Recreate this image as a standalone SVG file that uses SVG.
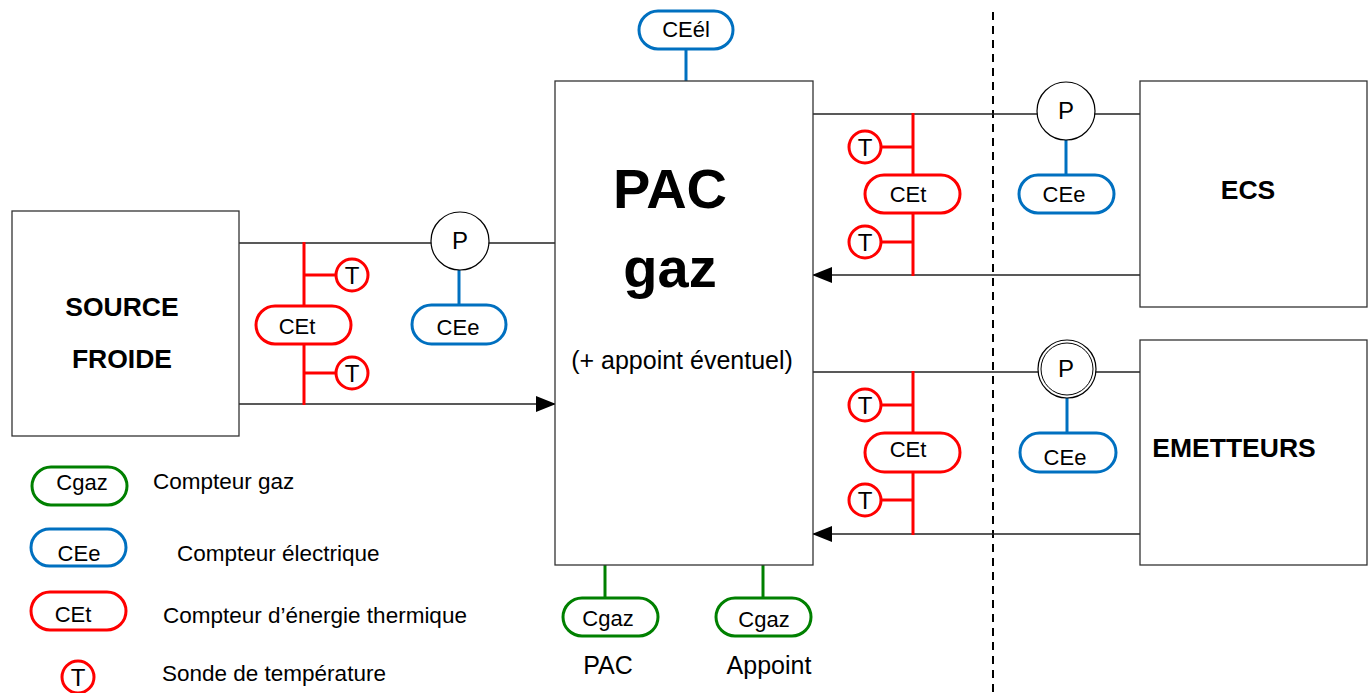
<svg xmlns="http://www.w3.org/2000/svg" width="1372" height="693" viewBox="0 0 1372 693">
<style>
text{font-family:"Liberation Sans",Arial,sans-serif;fill:#000}
.box{fill:#fff;stroke:#333;stroke-width:1.3}
.pipe{stroke:#222;stroke-width:1.3;fill:none}
.red{stroke:#ff0000;stroke-width:3;fill:none}
.blue{stroke:#0070c0;stroke-width:3;fill:none}
.green{stroke:#008000;stroke-width:3;fill:none}
.pill{fill:#fff}
.t{font-size:22px;text-anchor:middle}
.pt{font-size:24px;text-anchor:middle}
.lbl{font-size:22.5px}
.sub{font-size:25px;text-anchor:middle}
.big{font-size:26.5px;font-weight:bold;text-anchor:middle}
.huge{font-size:56px;font-weight:bold;text-anchor:middle}
.pc{fill:#fff;stroke:#000;stroke-width:1.2}
</style>
<defs>
<marker id="arr" markerWidth="20" markerHeight="16" refX="19" refY="8" orient="auto" markerUnits="userSpaceOnUse"><path d="M0,0 L20,8 L0,16 Z" fill="#000"/></marker>
</defs>
<rect width="1372" height="693" fill="#fff"/>
<line x1="993" y1="12" x2="993" y2="693" stroke="#000" stroke-width="2" stroke-dasharray="8,6"/>

<g id="connectors">
<line class="pipe" x1="239" y1="243" x2="555" y2="243"/>
<line class="pipe" x1="239" y1="404" x2="555" y2="404" marker-end="url(#arr)"/>
<line class="pipe" x1="813" y1="114" x2="1140" y2="114"/>
<line class="pipe" x1="1140" y1="275" x2="813" y2="275" marker-end="url(#arr)"/>
<line class="pipe" x1="813" y1="372" x2="1140" y2="372"/>
<line class="pipe" x1="1140" y1="534" x2="813" y2="534" marker-end="url(#arr)"/>
<line class="blue" x1="686" y1="49" x2="686" y2="81"/>
<line class="green" x1="605" y1="565" x2="605" y2="598"/>
<line class="green" x1="763" y1="565" x2="763" y2="598"/>
<line class="blue" x1="459" y1="270" x2="459" y2="305"/>
<line class="blue" x1="1066" y1="139" x2="1066" y2="175"/>
<line class="blue" x1="1067" y1="397" x2="1067" y2="433"/>
<line class="red" x1="304" y1="242" x2="304" y2="405"/>
<line class="red" x1="304" y1="275" x2="336" y2="275"/>
<line class="red" x1="304" y1="373" x2="336" y2="373"/>
<line class="red" x1="913" y1="113" x2="913" y2="276"/>
<line class="red" x1="881" y1="147" x2="913" y2="147"/>
<line class="red" x1="881" y1="242" x2="913" y2="242"/>
<line class="red" x1="913" y1="371" x2="913" y2="535"/>
<line class="red" x1="881" y1="405" x2="913" y2="405"/>
<line class="red" x1="881" y1="500" x2="913" y2="500"/>
</g>

<g id="source">
<rect class="box" x="12" y="211" width="227" height="225"/>
<text class="big" x="122" y="316">SOURCE</text>
<text class="big" x="122" y="368">FROIDE</text>
</g>
<g id="pac">
<rect class="box" x="555" y="81" width="258" height="484"/>
<text class="huge" x="670" y="208">PAC</text>
<text class="huge" x="670" y="287">gaz</text>
<text class="sub" x="682" y="369">(+ appoint éventuel)</text>
</g>
<g id="ecs">
<rect class="box" x="1140" y="81" width="227" height="226"/>
<text class="big" x="1248" y="199">ECS</text>
</g>
<g id="emetteurs">
<rect class="box" x="1140" y="340" width="227" height="225"/>
<text class="big" x="1234" y="457">EMETTEURS</text>
</g>

<g id="ceel">
<rect class="pill blue" x="639" y="11" width="94" height="38" rx="19"/>
<text class="t" x="686" y="37">CEél</text>
</g>
<g id="cgaz-pac">
<rect class="pill green" x="563" y="598" width="95" height="38" rx="19"/>
<text class="t" x="608" y="626">Cgaz</text>
<text class="sub" x="608" y="674">PAC</text>
</g>
<g id="cgaz-appoint">
<rect class="pill green" x="716" y="598" width="95" height="38" rx="19"/>
<text class="t" x="764" y="627">Cgaz</text>
<text class="sub" x="769" y="674">Appoint</text>
</g>

<g id="p-left">
<circle class="pc" cx="460" cy="241" r="29"/>
<text class="pt" x="460" y="249">P</text>
</g>
<g id="cee-left">
<rect class="pill blue" x="412" y="305" width="94" height="39" rx="19.5"/>
<text class="t" x="458" y="335">CEe</text>
</g>
<g id="cet-left">
<rect class="pill red" x="256" y="306" width="95" height="38" rx="19"/>
<text class="t" x="297" y="334">CEt</text>
</g>
<g id="t-left-1"><circle class="pill red" cx="352" cy="275" r="16"/><text class="pt" x="352" y="284">T</text></g>
<g id="t-left-2"><circle class="pill red" cx="352" cy="373" r="16"/><text class="pt" x="352" y="382">T</text></g>

<g id="p-ecs">
<circle class="pc" cx="1066" cy="111" r="29"/>
<text class="pt" x="1066" y="119">P</text>
</g>
<g id="cee-ecs">
<rect class="pill blue" x="1019" y="175" width="95" height="38" rx="19"/>
<text class="t" x="1064" y="202">CEe</text>
</g>
<g id="cet-ecs">
<rect class="pill red" x="865" y="175" width="95" height="38" rx="19"/>
<text class="t" x="908" y="202">CEt</text>
</g>
<g id="t-ecs-1"><circle class="pill red" cx="865" cy="147" r="16"/><text class="pt" x="865" y="156">T</text></g>
<g id="t-ecs-2"><circle class="pill red" cx="865" cy="242" r="16"/><text class="pt" x="865" y="251">T</text></g>

<g id="p-em">
<circle class="pc" cx="1067" cy="369" r="29"/>
<circle cx="1067" cy="369" r="26" fill="none" stroke="#000" stroke-width="1"/>
<text class="pt" x="1066" y="377">P</text>
</g>
<g id="cee-em">
<rect class="pill blue" x="1020" y="433" width="96" height="39" rx="19.5"/>
<text class="t" x="1065" y="465">CEe</text>
</g>
<g id="cet-em">
<rect class="pill red" x="865" y="433" width="95" height="39" rx="19.5"/>
<text class="t" x="908" y="457">CEt</text>
</g>
<g id="t-em-1"><circle class="pill red" cx="865" cy="405" r="16"/><text class="pt" x="865" y="414">T</text></g>
<g id="t-em-2"><circle class="pill red" cx="865" cy="500" r="16"/><text class="pt" x="865" y="509">T</text></g>

<g id="legend">
<rect class="pill green" x="32" y="467" width="95" height="38" rx="19"/>
<text class="t" x="82" y="490">Cgaz</text>
<text class="lbl" x="153" y="489">Compteur gaz</text>
<rect class="pill blue" x="31" y="529" width="95" height="37" rx="18.5"/>
<text class="t" x="79" y="561">CEe</text>
<text class="lbl" x="177" y="561">Compteur électrique</text>
<rect class="pill red" x="31" y="592" width="95" height="38" rx="19"/>
<text class="t" x="73" y="622">CEt</text>
<text class="lbl" x="163" y="623">Compteur d’énergie thermique</text>
<circle class="pill red" cx="78" cy="677" r="16"/>
<text class="pt" x="78" y="686">T</text>
<text class="lbl" x="162" y="681">Sonde de température</text>
</g>
</svg>
